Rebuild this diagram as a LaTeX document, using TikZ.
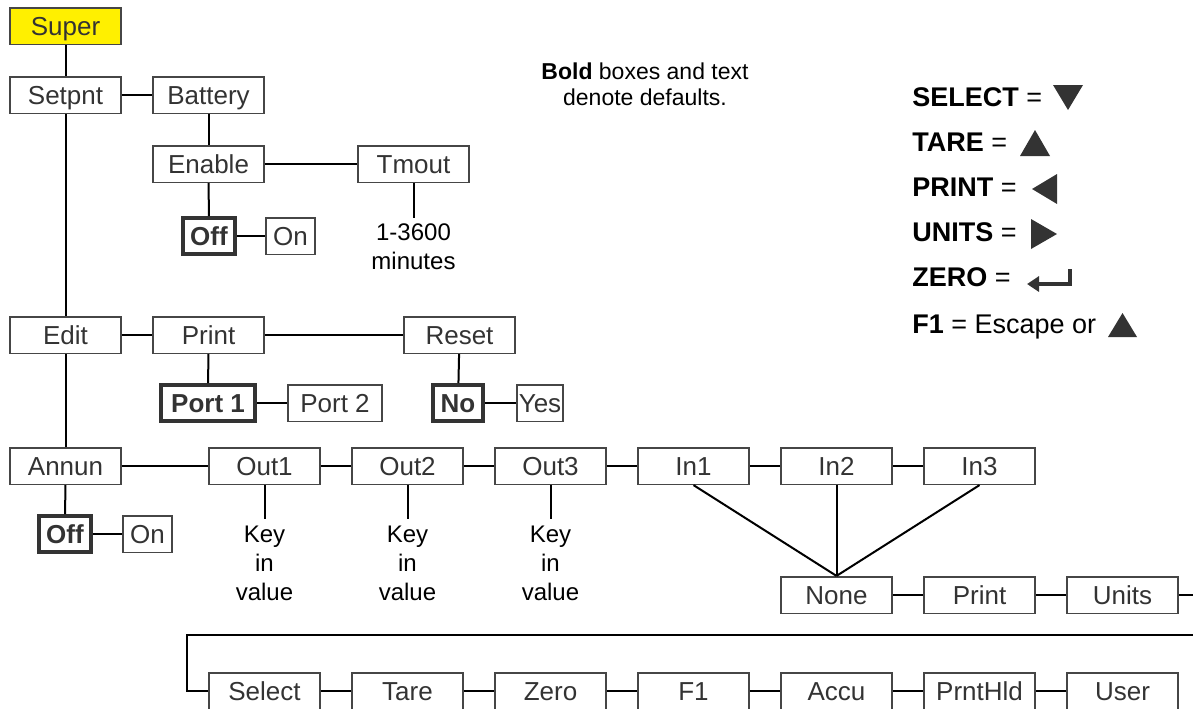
\documentclass[tikz,border=0pt]{standalone}
\usepackage{fontspec}
\setmainfont{Liberation Sans}
\usepackage{tikz}
\usetikzlibrary{positioning, arrows.meta}
\definecolor{superyellow}{RGB}{255,240,0}
\definecolor{boxgray}{RGB}{70,70,70}
\definecolor{txtgray}{RGB}{51,51,51}

\begin{document}
\begin{tikzpicture}[x=0.5pt, y=-0.5pt, node distance=71.5pt]
    \tikzstyle{menu} = [rectangle, draw=boxgray, line width=0.8pt, text=txtgray, font=\fontsize{13}{15}\selectfont, text height=9.4pt, text depth=0pt, minimum width=55.5pt, minimum height=18.3pt, inner sep=0pt]
    \tikzstyle{dflt} = [menu, draw=txtgray, line width=2pt, font=\fontsize{13}{15}\selectfont\bfseries, minimum height=18pt]
    \tikzstyle{note} = [align=center, font=\fontsize{12}{14.5}\selectfont, inner xsep=0pt, inner ysep=3pt]
    \tikzstyle{legend} = [anchor=west, inner sep=0pt, font=\fontsize{13.5}{16}\selectfont]
    \tikzstyle{link} = [line width=1pt]

    \useasboundingbox (0,0) rectangle (1193,708);

    % left spine
    \node [menu, fill=superyellow] (super) at (65.5,26) {Super};
    \node [menu] (setpnt) at (65.5,95) {Setpnt};
    \node [menu] (edit) at (65.5,335) {Edit};
    \node [menu] (annun) at (65.5,466) {Annun};

    % battery branch
    \node [menu] (battery) at (208.5,95) {Battery};
    \node [menu] (enable) at (208.5,164) {Enable};
    \node [menu] (tmout) at (413.5,164) {Tmout};
    \node [dflt, minimum width=26pt] (batoff) at (209,236) {Off};
    \node [menu, minimum width=24.7pt] (baton) at (290.5,236) {On};
    \node [note] (tmrange) at (413.5,247) {1-3600\\minutes};

    % edit branch
    \node [menu] (print) at (208.5,335) {Print};
    \node [menu] (reset) at (459.5,335) {Reset};
    \node [dflt, minimum width=47pt] (port1) at (208,403) {Port 1};
    \node [menu, minimum width=47.2pt] (port2) at (335,403) {Port 2};
    \node [dflt, minimum width=25pt] (resno) at (458,403) {No};
    \node [menu, minimum width=23.2pt] (resyes) at (540,403) {Yes};

    % annunciator branch
    \node [dflt, minimum width=26pt] (annoff) at (65,534) {Off};
    \node [menu, minimum width=24.7pt] (annon) at (147.5,534) {On};
    \node [menu] (out1) at (264.5,466) {Out1};
    \node [menu, right of=out1] (out2) {Out2};
    \node [menu, right of=out2] (out3) {Out3};
    \node [menu, right of=out3] (in1) {In1};
    \node [menu, right of=in1] (in2) {In2};
    \node [menu, right of=in2] (in3) {In3};
    \node [note, below of=out1, node distance=48.5pt] (val1) {Key\\in\\value};
    \node [note, below of=out2, node distance=48.5pt] (val2) {Key\\in\\value};
    \node [note, below of=out3, node distance=48.5pt] (val3) {Key\\in\\value};

    % input functions
    \node [menu, below of=in2, node distance=64.5pt] (none) {None};
    \node [menu, right of=none] (inprint) {Print};
    \node [menu, right of=inprint] (units) {Units};
    \node [menu] (select) at (264.5,691) {Select};
    \node [menu, right of=select] (tare) {Tare};
    \node [menu, right of=tare] (zero) {Zero};
    \node [menu, right of=zero] (fone) {F1};
    \node [menu, right of=fone] (accu) {Accu};
    \node [menu, right of=accu] (prnthld) {PrntHld};
    \node [menu, right of=prnthld] (user) {User};
    \coordinate (unitsout) at (1193,595);
    \coordinate (wrapright) at (1193,635);
    \coordinate (wrapleft) at (187,635);

    \draw [link] (super) -- (setpnt);
    \draw [link] (setpnt) -- (battery);
    \draw [link] (battery) -- (enable);
    \draw [link] (enable) -- (tmout);
    \draw [link] (enable) -- (batoff);
    \draw [link] (batoff) -- (baton);
    \draw [link] (tmout) -- (tmrange);
    \draw [link] (setpnt) -- (edit);
    \draw [link] (edit) -- (print);
    \draw [link] (print) -- (reset);
    \draw [link] (print) -- (port1);
    \draw [link] (port1) -- (port2);
    \draw [link] (reset) -- (resno);
    \draw [link] (resno) -- (resyes);
    \draw [link] (edit) -- (annun);
    \draw [link] (annun) -- (annoff);
    \draw [link] (annoff) -- (annon);
    \draw [link] (annun) -- (out1);
    \draw [link] (out1) -- (out2);
    \draw [link] (out2) -- (out3);
    \draw [link] (out3) -- (in1);
    \draw [link] (in1) -- (in2);
    \draw [link] (in2) -- (in3);
    \draw [link] (out1) -- (val1);
    \draw [link] (out2) -- (val2);
    \draw [link] (out3) -- (val3);
    \draw [link] (in1.south) -- (none.north);
    \draw [link] (in2.south) -- (none.north);
    \draw [link] (in3.south) -- (none.north);
    \draw [link] (none) -- (inprint);
    \draw [link] (inprint) -- (units);
    \draw [link] (units) -- (unitsout);
    \draw [link] (wrapright) -- (wrapleft) |- (select.west);
    \draw [link] (select) -- (tare);
    \draw [link] (tare) -- (zero);
    \draw [link] (zero) -- (fone);
    \draw [link] (fone) -- (accu);
    \draw [link] (accu) -- (prnthld);
    \draw [link] (prnthld) -- (user);

    % legend
    \node [note, inner ysep=0pt, font=\fontsize{11.5}{13}\selectfont] (defaults) at (645,84) {\textbf{Bold} boxes and text\\denote defaults.};
    \node [legend] (selkey) at (912,97) {\textbf{SELECT} =};
    \node [legend] (tarekey) at (912,142) {\textbf{TARE} =};
    \node [legend] (printkey) at (912,187) {\textbf{PRINT} =};
    \node [legend] (unitskey) at (912,232) {\textbf{UNITS} =};
    \node [legend] (zerokey) at (912,277) {\textbf{ZERO} =};
    \node [legend] (f1key) at (912,327) {\textbf{F1} = Escape or};
    \fill [txtgray] (1053,85) -- (1083,85) -- (1068,110) -- cycle;
    \fill [txtgray] (1020,156) -- (1050,156) -- (1035,130) -- cycle;
    \fill [txtgray] (1057,174) -- (1057,204) -- (1032,189) -- cycle;
    \fill [txtgray] (1031,219) -- (1031,249) -- (1057,234) -- cycle;
    \fill [txtgray] (1108,337) -- (1137,337) -- (1122.5,313) -- cycle;
    \draw [txtgray, line width=2pt, -{Triangle[length=6pt, width=7.5pt]}] (1070,269) -- (1070,284) -- (1027,284);
\end{tikzpicture}
\end{document}
